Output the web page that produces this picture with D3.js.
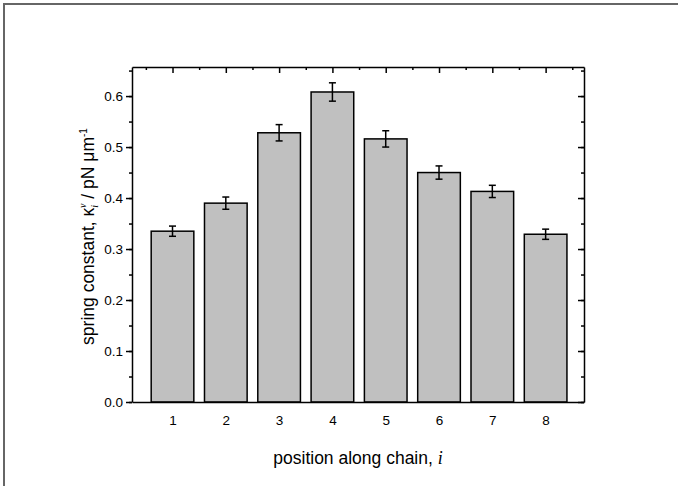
<!DOCTYPE html>
<html>
<head>
<meta charset="utf-8">
<script src="https://cdn.jsdelivr.net/npm/d3@7"></script>
<style>
  body { margin: 0; background: #fff; }
  svg { font-family: "Liberation Sans", Arial, sans-serif; }
</style>
</head>
<body>
<div id="chart"></div>
<script>
// data
const positions = [1, 2, 3, 4, 5, 6, 7, 8];
const springConst = [0.335, 0.390, 0.528, 0.608, 0.516, 0.450, 0.413, 0.329];
const springErr = [0.010, 0.012, 0.016, 0.018, 0.016, 0.013, 0.012, 0.010];
const yTicks = [0, 0.1, 0.2, 0.3, 0.4, 0.5, 0.6];

function drawChart() {
    const W = 678, H = 486;
    const margin = {top: 67, right: 94, bottom: 84, left: 132};
    const width = W - margin.left - margin.right;
    const height = H - margin.top - margin.bottom;

    const svg = d3.select("#chart")
        .append("svg")
        .attr("width", W)
        .attr("height", H);

    // page frame (only top/left edges are visible in the window)
    svg.append("rect")
        .attr("x", 4).attr("y", 4)
        .attr("width", W + 20).attr("height", H + 20)
        .attr("fill", "none")
        .attr("stroke", "#666")
        .attr("stroke-width", 2);

    const g = svg.append("g")
        .attr("transform", `translate(${margin.left}, ${margin.top})`);

    const xScale = d3.scaleLinear()
        .domain([0.24, 8.72])
        .range([0, width]);
    const yScale = d3.scaleLinear()
        .domain([0, 0.657])
        .range([height, 0]);

    const barW = xScale(0.8) - xScale(0);
    const minorY = d3.range(0, 0.66, 0.05);
    const minorX = d3.range(0.5, 8.6, 1);

    // bars
    g.selectAll(".bar")
        .data(positions)
        .join("rect")
        .attr("class", "bar")
        .attr("x", (d, i) => xScale(d) - barW / 2)
        .attr("y", (d, i) => yScale(springConst[i]))
        .attr("width", barW)
        .attr("height", (d, i) => yScale(0) - yScale(springConst[i]))
        .attr("fill", "#c0c0c0")
        .attr("stroke", "#000")
        .attr("stroke-width", 1.5);

    // error bars
    const err = g.selectAll(".err")
        .data(positions)
        .join("g")
        .attr("class", "err")
        .attr("stroke", "#000")
        .attr("stroke-width", 1.5);
    err.append("line")
        .attr("x1", d => xScale(d)).attr("x2", d => xScale(d))
        .attr("y1", (d, i) => yScale(springConst[i] - springErr[i]))
        .attr("y2", (d, i) => yScale(springConst[i] + springErr[i]));
    err.selectAll(".cap")
        .data((d, i) => [[d, springConst[i] - springErr[i]], [d, springConst[i] + springErr[i]]])
        .join("line")
        .attr("x1", d => xScale(d[0]) - 3.5).attr("x2", d => xScale(d[0]) + 3.5)
        .attr("y1", d => yScale(d[1])).attr("y2", d => yScale(d[1]));

    // left axis, outward ticks
    const left = g.append("g")
        .call(d3.axisLeft(yScale).tickValues(yTicks).tickFormat(d3.format(".1f")).tickSize(6).tickSizeOuter(0));
    left.append("g")
        .call(d3.axisLeft(yScale).tickValues(minorY).tickFormat("").tickSize(3).tickSizeOuter(0))
        .select(".domain").remove();

    // right axis, inward ticks
    const right = g.append("g").attr("transform", `translate(${width},0)`);
    right.call(d3.axisLeft(yScale).tickValues(yTicks).tickFormat("").tickSize(6).tickSizeOuter(0));
    right.append("g")
        .call(d3.axisLeft(yScale).tickValues(minorY).tickFormat("").tickSize(3).tickSizeOuter(0))
        .select(".domain").remove();

    // top axis, inward ticks
    const top = g.append("g");
    top.call(d3.axisBottom(xScale).tickValues(positions).tickFormat("").tickSize(6).tickSizeOuter(0));
    top.append("g")
        .call(d3.axisBottom(xScale).tickValues(minorX).tickFormat("").tickSize(3).tickSizeOuter(0))
        .select(".domain").remove();

    // bottom axis, labels only
    g.append("g")
        .attr("transform", `translate(0, ${height})`)
        .call(d3.axisBottom(xScale).tickValues(positions).tickFormat(d3.format("d")).tickSize(0).tickPadding(13).tickSizeOuter(0));

    svg.selectAll(".domain").attr("stroke-width", 1.5);
    svg.selectAll(".tick line").attr("stroke-width", 1.5);
    svg.selectAll(".tick text")
        .style("font-family", "'Liberation Sans', Arial, sans-serif")
        .style("font-size", "13.5px")
        .attr("fill", "#000");
    left.selectAll(".tick text").attr("x", -9);

    // x-axis label
    const xl = g.append("text")
        .attr("x", width / 2)
        .attr("y", height + 62)
        .attr("text-anchor", "middle")
        .attr("font-size", 17.5);
    xl.append("tspan").text("position along chain, ");
    xl.append("tspan")
        .attr("font-family", "Liberation Serif, Times New Roman, serif")
        .attr("font-style", "italic")
        .attr("font-size", 18)
        .text("i");

    // y-axis label
    const yl = svg.append("text")
        .attr("transform", `translate(94, ${margin.top + height / 2 + 2}) rotate(-90)`)
        .attr("text-anchor", "middle")
        .attr("font-size", 17.5);
    yl.append("tspan").text("spring constant, \u03BA");
    yl.append("tspan").attr("font-size", 10).attr("dy", 4)
        .attr("font-family", "Liberation Serif, serif").attr("font-style", "italic").text("i");
    yl.append("tspan").attr("font-size", 10).attr("dy", -12).attr("dx", -3)
        .attr("font-family", "Liberation Serif, serif").attr("font-style", "italic").text("v");
    yl.append("tspan").attr("dy", 8).text(" / pN \u03BCm");
    yl.append("tspan").attr("font-size", 10).attr("dy", -7).text("-1");
}

function main() {
    drawChart();
}

main();
</script>
</body>
</html>
